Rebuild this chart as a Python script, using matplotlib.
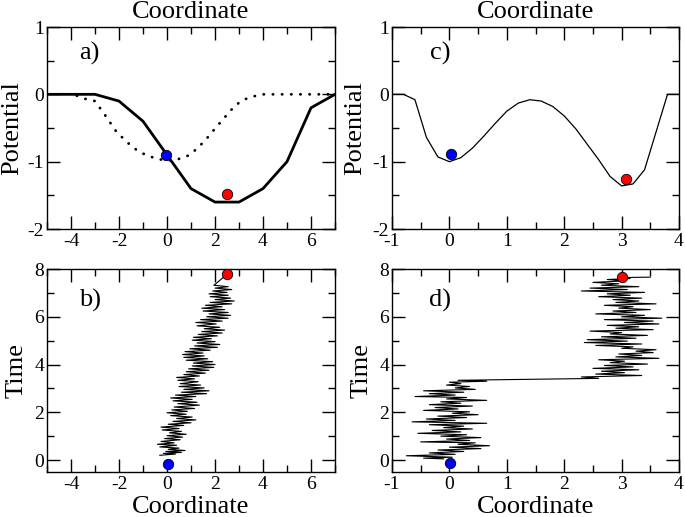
import numpy as np
import matplotlib
matplotlib.use("Agg")
import matplotlib.pyplot as plt
from matplotlib.ticker import MultipleLocator

plt.rcParams['font.family'] = ['Liberation Serif', 'DejaVu Serif']
plt.rcParams['axes.unicode_minus'] = False

# panel a: two potentials on a coarse grid
pot_a_x = [-5, -3, -2, -1, 0, 1, 2, 3, 4, 5, 6, 7]
pot_a_y = [0, 0, -0.1, -0.4, -0.9, -1.4, -1.6, -1.6, -1.4, -1.0, -0.2, 0]
dot_a_x = [-3.76, -3.38, -3.0, -2.54, -2.1, -1.57, -1.15, -0.85, -0.43, 0.0, 0.33,
           0.96, 1.32, 1.6, 2.07, 2.53, 2.83, 3.18, 3.6, 4.0, 5.0, 6.0, 7.0]
dot_a_y = [-0.02, -0.07, -0.1, -0.33, -0.56, -0.74, -0.86, -0.9, -0.96, -0.98, -0.98,
           -0.9, -0.78, -0.68, -0.48, -0.29, -0.17, -0.08, -0.03, 0, 0, 0, 0]

# panel c: double well
pot_c_x = [-1.0, -0.8, -0.6, -0.4, -0.2, 0.0, 0.2, 0.4, 0.6, 0.8, 1.0, 1.2, 1.4,
           1.6, 1.8, 2.0, 2.2, 2.4, 2.6, 2.8, 3.0, 3.2, 3.4, 3.6, 3.8, 4.0]
pot_c_y = [0, 0, -0.08, -0.64, -0.93, -1.0, -0.94, -0.8, -0.62, -0.43, -0.25, -0.13, -0.08,
           -0.1, -0.18, -0.32, -0.51, -0.74, -0.97, -1.22, -1.36, -1.33, -1.12, -0.56, 0, 0]

# panel b trajectory (time, coordinate)
traj_b_t = [0.20, 0.25, 0.28, 0.32, 0.36, 0.40, 0.45, 0.50, 0.55, 0.62, 0.66, 0.72, 0.78,
            0.85, 0.90, 0.96, 1.02, 1.08, 1.14, 1.20, 1.26, 1.32, 1.38, 1.45, 1.50, 1.56,
            1.62, 1.68, 1.74, 1.80, 1.86, 1.92, 1.98, 2.04, 2.10, 2.16, 2.22, 2.30, 2.36,
            2.42, 2.48, 2.54, 2.60, 2.66, 2.72, 2.78, 2.84, 2.90, 2.96, 3.02, 3.08, 3.14,
            3.20, 3.28, 3.34, 3.40, 3.46, 3.52, 3.58, 3.64, 3.70, 3.76, 3.82, 3.88, 3.94,
            4.00, 4.06, 4.12, 4.18, 4.24, 4.30, 4.36, 4.42, 4.48, 4.54, 4.60, 4.66, 4.72,
            4.78, 4.84, 4.90, 4.96, 5.02, 5.08, 5.14, 5.20, 5.26, 5.32, 5.38, 5.44, 5.50,
            5.56, 5.62, 5.70, 5.76, 5.82, 5.88, 5.94, 6.00, 6.06, 6.12, 6.18, 6.24, 6.30,
            6.36, 6.42, 6.48, 6.54, 6.60, 6.66, 6.72, 6.78, 6.84, 6.90, 6.96, 7.02, 7.08,
            7.14, 7.20, 7.26, 7.32, 7.38, 7.78]
traj_b_x = [-0.30, 0.35, -0.15, 0.60, -0.05, 0.75, 0.05, 0.50, -0.30, 0.40, -0.40, 0.30, -0.25,
            0.55, -0.10, 0.65, 0.00, 0.80, 0.10, 0.60, -0.20, 0.50, -0.25, 0.70, 0.05, 1.00,
            0.25, 1.20, 0.40, 1.05, 0.15, 0.80, 0.00, 0.85, 0.20, 1.15, 0.30, 1.35, 0.45,
            1.25, 0.25, 1.05, 0.15, 1.20, 0.35, 1.65, 0.60, 1.75, 0.70, 1.55, 0.50, 1.40,
            0.55, 1.30, 0.45, 1.15, 0.40, 1.35, 0.70, 1.60, 0.80, 1.75, 0.90, 1.95, 1.05,
            2.00, 1.10, 1.90, 0.80, 1.70, 0.70, 1.55, 0.65, 1.50, 0.75, 1.80, 0.95, 2.10,
            1.15, 2.20, 1.25, 2.00, 1.05, 1.85, 1.10, 2.10, 1.30, 2.30, 1.45, 2.40, 1.55,
            2.20, 1.25, 2.05, 1.20, 2.30, 1.40, 2.55, 1.65, 2.65, 1.75, 2.55, 1.50, 2.40,
            1.45, 2.30, 1.60, 2.70, 1.80, 2.80, 2.00, 2.65, 1.80, 2.55, 1.75, 2.50, 1.90,
            2.70, 2.00, 2.55, 1.95, 2.03, 2.50]

# panel d trajectory (time, coordinate)
traj_d_t = [0.05, 0.08, 0.12, 0.18, 0.24, 0.30, 0.36, 0.42, 0.48, 0.54, 0.60, 0.66, 0.72,
            0.76, 0.82, 0.88, 0.94, 1.00, 1.06, 1.12, 1.18, 1.24, 1.30, 1.36, 1.42, 1.48,
            1.54, 1.60, 1.66, 1.72, 1.78, 1.84, 1.90, 1.96, 2.02, 2.08, 2.14, 2.20, 2.26,
            2.32, 2.38, 2.44, 2.50, 2.56, 2.62, 2.66, 2.72, 2.78, 2.84, 2.90, 2.96, 3.02,
            3.08, 3.14, 3.20, 3.26, 3.30, 3.34, 3.42, 3.48, 3.54, 3.60, 3.66, 3.72, 3.78,
            3.84, 3.90, 3.96, 4.02, 4.08, 4.14, 4.20, 4.26, 4.32, 4.38, 4.44, 4.50, 4.56,
            4.62, 4.68, 4.74, 4.80, 4.86, 4.92, 4.98, 5.04, 5.10, 5.16, 5.22, 5.28, 5.34,
            5.40, 5.46, 5.52, 5.58, 5.64, 5.70, 5.76, 5.82, 5.88, 5.94, 6.00, 6.06, 6.12,
            6.18, 6.24, 6.30, 6.36, 6.42, 6.48, 6.54, 6.60, 6.66, 6.72, 6.78, 6.84, 6.90,
            6.96, 7.02, 7.08, 7.14, 7.20, 7.26, 7.32, 7.38, 7.44, 7.50, 7.56, 7.60, 7.64,
            7.66]
traj_d_x = [-0.10, -0.45, 0.05, -0.75, 0.10, -0.35, 0.25, -0.20, 0.55, 0.00, 0.70, 0.15, 0.45,
            -0.50, 0.35, -0.05, 0.55, -0.15, 0.30, -0.55, 0.20, -0.30, 0.40, -0.10, 0.25, -0.35,
            0.65, -0.65, 0.10, -0.40, 0.30, -0.20, 0.50, 0.05, 0.35, -0.45, 0.15, -0.25, 0.40,
            -0.35, 0.20, -0.15, 0.65, -0.05, 0.30, -0.60, 0.10, -0.35, 0.25, -0.45, 0.45, 0.10,
            0.35, -0.05, 0.20, 0.00, 0.65, 0.15, 2.60, 2.30, 3.35, 2.55, 3.05, 2.65, 3.30,
            2.50, 3.20, 2.70, 3.45, 2.80, 3.05, 2.60, 3.65, 2.90, 3.35, 2.95, 3.55, 3.25,
            3.60, 3.00, 3.20, 2.55, 3.35, 2.35, 3.10, 2.40, 3.25, 2.65, 3.45, 2.80, 3.00,
            2.45, 3.55, 2.90, 3.30, 2.75, 3.65, 3.05, 3.55, 2.70, 3.70, 3.00, 3.40, 2.55,
            3.25, 2.85, 3.50, 2.95, 3.20, 2.70, 3.60, 2.90, 3.30, 2.85, 3.35, 2.60, 3.15,
            2.75, 3.40, 2.30, 3.10, 2.45, 3.30, 2.65, 2.95, 2.50, 3.05, 2.75, 3.15, 3.00,
            3.50]

# start (blue) and end (red) markers: [x, y] per panel
start_a, end_a = [-0.04, -0.9], [2.5, -1.48]
start_c, end_c = [0.02, -0.88], [3.07, -1.26]
start_b, end_b = [0.03, -0.18], [2.52, 7.78]
start_d, end_d = [0.01, -0.13], [3.0, 7.65]

LBL = 19
TCK = 14

fig = plt.figure(figsize=(6.85, 5.17), dpi=100)
W, H = 685, 517


def add_ax(l, t, r, b):
    return fig.add_axes([l / W, (H - b) / H, (r - l) / W, (b - t) / H])


ax_a = add_ax(47, 27, 335, 229)
ax_c = add_ax(392, 27, 679, 229)
ax_b = add_ax(47, 269, 335, 472)
ax_d = add_ax(392, 269, 679, 472)


def style(ax, xmaj, xmin, ymaj, ymin):
    ax.xaxis.set_major_locator(MultipleLocator(xmaj))
    ax.xaxis.set_minor_locator(MultipleLocator(xmin))
    ax.yaxis.set_major_locator(MultipleLocator(ymaj))
    ax.yaxis.set_minor_locator(MultipleLocator(ymin))
    ax.tick_params(which='both', direction='in', top=True, right=True, width=1)
    ax.tick_params(which='major', length=9.5, labelsize=TCK)
    ax.tick_params(which='minor', length=5)
    ax.tick_params(axis='x', pad=3)
    ax.tick_params(axis='y', pad=2)
    for s in ax.spines.values():
        s.set_linewidth(1)


def dots(ax, s, e):
    ax.plot(s[0], s[1], 'o', color='#0000ff', mec='black', mew=0.6, ms=7.5, zorder=5, clip_on=False)
    ax.plot(e[0], e[1], 'o', color='#ff0000', mec='black', mew=0.6, ms=7.5, zorder=5, clip_on=False)


# a)
ax_a.plot(pot_a_x, pot_a_y, color='black', lw=2)
ax_a.plot(dot_a_x, dot_a_y, color='black', lw=2, linestyle=(0, (0.1, 3.2)), dash_capstyle='round')
dots(ax_a, start_a, end_a)
ax_a.set_xlim(-5, 7)
ax_a.set_ylim(-2, 1)
style(ax_a, 2, 1, 1, 0.5)
ax_a.set_ylabel("Potential", fontsize=LBL, va='center')
ax_a.yaxis.set_label_coords(-0.12, 0.5)
ax_a.set_title("Coordinate", fontsize=LBL, y=1.074, pad=0, va='center')
ax_a.text(0.111, 0.871, "a)", fontsize=LBL, transform=ax_a.transAxes, ha='left', va='center')

# c)
ax_c.plot(pot_c_x, pot_c_y, color='black', lw=0.9)
dots(ax_c, start_c, end_c)
ax_c.set_xlim(-1, 4)
ax_c.set_ylim(-2, 1)
style(ax_c, 1, 0.5, 1, 0.5)
ax_c.set_ylabel("Potential", fontsize=LBL, va='center')
ax_c.yaxis.set_label_coords(-0.129, 0.5)
ax_c.set_title("Coordinate", fontsize=LBL, y=1.074, pad=0, va='center')
ax_c.text(0.132, 0.871, "c)", fontsize=LBL, transform=ax_c.transAxes, ha='left', va='center')

# b)
ax_b.plot(traj_b_x, traj_b_t, color='black', lw=0.8)
dots(ax_b, start_b, end_b)
ax_b.set_xlim(-5, 7)
ax_b.set_ylim(-0.5, 8)
style(ax_b, 2, 1, 2, 1)
ax_b.set_ylabel("Time", fontsize=LBL, va='center')
ax_b.yaxis.set_label_coords(-0.104, 0.5)
ax_b.set_xlabel("Coordinate", fontsize=LBL, va='center')
ax_b.xaxis.set_label_coords(0.5, -0.172)
ax_b.text(0.111, 0.847, "b)", fontsize=LBL, transform=ax_b.transAxes, ha='left', va='center')

# d)
ax_d.plot(traj_d_x, traj_d_t, color='black', lw=0.8)
dots(ax_d, start_d, end_d)
ax_d.set_xlim(-1, 4)
ax_d.set_ylim(-0.5, 8)
style(ax_d, 1, 0.5, 2, 1)
ax_d.set_ylabel("Time", fontsize=LBL, va='center')
ax_d.yaxis.set_label_coords(-0.106, 0.5)
ax_d.set_xlabel("Coordinate", fontsize=LBL, va='center')
ax_d.xaxis.set_label_coords(0.5, -0.172)
ax_d.text(0.129, 0.847, "d)", fontsize=LBL, transform=ax_d.transAxes, ha='left', va='center')

fig.savefig("out.png", dpi=100)
